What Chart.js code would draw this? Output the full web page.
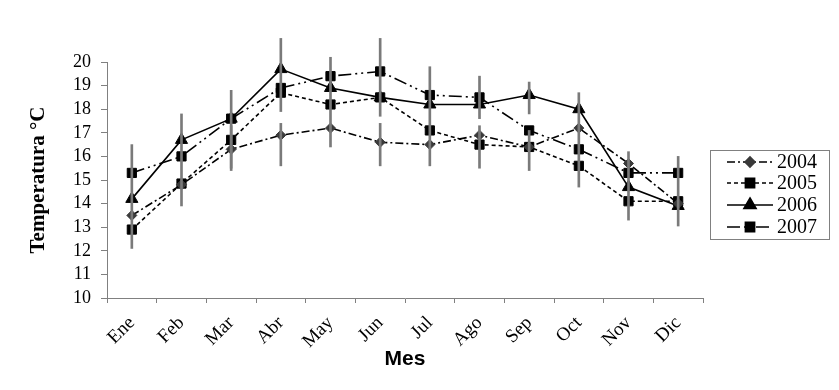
<!DOCTYPE html>
<html>
<head>
<meta charset="utf-8">
<script src="https://cdn.jsdelivr.net/npm/chart.js@4/dist/chart.umd.min.js"></script>
<style>
  body { margin: 0; background: #fff; }
  #wrap { width: 839px; height: 390px; }
</style>
</head>
<body>
<div id="wrap"><canvas id="c" width="839" height="390"></canvas></div>
<script>
// Data
const months = ['Ene', 'Feb', 'Mar', 'Abr', 'May', 'Jun', 'Jul', 'Ago', 'Sep', 'Oct', 'Nov', 'Dic'];
const t2004 = [13.5, 14.8, 16.3, 16.9, 17.2, 16.6, 16.5, 16.9, 16.4, 17.2, 15.7, 14.0];
const t2005 = [12.9, 14.85, 16.7, 18.7, 18.2, 18.5, 17.1, 16.5, 16.4, 15.6, 14.1, 14.1];
const t2006 = [14.2, 16.7, 17.6, 19.7, 18.9, 18.5, 18.2, 18.2, 18.6, 18.0, 14.7, 13.9];
const t2007 = [15.3, 16.0, 17.6, 18.9, 19.4, 19.6, 18.6, 18.5, 17.1, 16.3, 15.3, 15.3];
// error bar ranges (low, high)
const errA = [[12.1, 16.5], [13.9, 17.8], [15.4, 18.8], [17.9, 21.0], [16.4, 20.2], [17.7, 21.0],
              [15.6, 19.8], [17.6, 19.4], [17.8, 19.15], [14.7, 18.7], [13.3, 16.2], [13.05, 16.0]];
const errB = [null, null, [15.5, 17.3], [15.6, 17.4], null, [15.6, 17.4],
              null, [15.5, 17.3], [15.4, 17.1], null, null, null];
const yTicks = [10, 11, 12, 13, 14, 15, 16, 17, 18, 19, 20];

const serif = "'Liberation Serif', 'Times New Roman', serif";

function lineSet(label, data, dash, style, radius, fill) {
    return {
        type: 'line',
        label: label,
        data: data,
        borderColor: '#000',
        borderWidth: 1.6,
        borderDash: dash,
        pointStyle: style,
        pointRadius: radius,
        pointBackgroundColor: fill,
        pointBorderColor: fill,
        pointBorderWidth: 1,
        tension: 0,
        order: 1
    };
}

function errSet(data) {
    return {
        type: 'bar',
        label: 'err',
        data: data,
        backgroundColor: '#7a7a7a',
        barThickness: 2,
        grouped: false,
        clip: false,
        order: -1
    };
}

const series = [
    lineSet('2004', t2004, [8, 3, 2, 3], 'rectRot', 5, '#3a3a3a'),
    lineSet('2005', t2005, [4, 3], 'rect', 6.5, '#000'),
    lineSet('2006', t2006, [], 'triangle', 7, '#000'),
    lineSet('2007', t2007, [13, 4, 2, 4, 2, 4], 'rect', 6.5, '#000')
];

// Boxed legend with line + marker samples
const boxLegend = {
    id: 'boxLegend',
    afterDraw(chart) {
        const ctx = chart.ctx;
        const x0 = 710, y0 = 150, w = 119, h = 89;
        ctx.save();
        ctx.strokeStyle = '#808080';
        ctx.lineWidth = 1;
        ctx.strokeRect(x0 + 0.5, y0 + 0.5, w, h);
        const rows = [162, 183, 205, 227];
        series.forEach((ds, i) => {
            const y = rows[i];
            ctx.beginPath();
            ctx.setLineDash(ds.borderDash);
            ctx.strokeStyle = '#000';
            ctx.lineWidth = 1.6;
            ctx.moveTo(727, y);
            ctx.lineTo(773, y);
            ctx.stroke();
            ctx.setLineDash([]);
            ctx.fillStyle = ds.pointBackgroundColor;
            ctx.strokeStyle = ds.pointBorderColor;
            Chart.helpers.drawPoint(ctx, {
                pointStyle: ds.pointStyle,
                radius: ds.pointRadius,
                rotation: 0,
                borderWidth: 1
            }, 750, y);
            ctx.fillStyle = '#000';
            ctx.font = '20px ' + serif;
            ctx.textBaseline = 'middle';
            ctx.textAlign = 'left';
            ctx.fillText(ds.label, 777, y + 1);
        });
        ctx.restore();
    }
};

new Chart(document.getElementById('c'), {
    data: {
        labels: months,
        datasets: [...series, errSet(errA), errSet(errB)]
    },
    options: {
        responsive: false,
        animation: false,
        layout: { padding: { left: 0, right: 136, top: 62, bottom: 0 } },
        plugins: {
            legend: { display: false },
            tooltip: { enabled: false }
        },
        scales: {
            x: {
                type: 'category',
                offset: true,
                afterFit(scale) { scale.height = 92; },
                border: { color: '#808080', width: 1 },
                grid: { display: true, drawOnChartArea: false, drawTicks: true, tickLength: 5, color: '#808080', offset: true },
                ticks: {
                    color: '#000',
                    font: { family: serif, size: 19 },
                    autoSkip: false,
                    maxRotation: 45,
                    minRotation: 45,
                    padding: 9
                },
                title: {
                    display: true,
                    text: 'Mes',
                    color: '#000',
                    font: { family: "'Liberation Sans', Arial, sans-serif", size: 21, weight: 'bold' },
                    padding: { top: 0, bottom: 18 }
                }
            },
            y: {
                min: 10,
                max: 20,
                afterFit(scale) { scale.width = 107; },
                afterBuildTicks(scale) { scale.ticks = yTicks.map(v => ({ value: v })); },
                border: { color: '#808080', width: 1 },
                grid: { display: true, drawOnChartArea: false, drawTicks: true, tickLength: 6, color: '#808080' },
                ticks: {
                    color: '#000',
                    font: { family: serif, size: 18 },
                    autoSkip: false,
                    stepSize: 1,
                    padding: 10
                },
                title: {
                    display: true,
                    text: 'Temperatura °C',
                    color: '#000',
                    font: { family: serif, size: 21, weight: 'bold' },
                    padding: { top: 26, bottom: 0 }
                }
            }
        }
    },
    plugins: [boxLegend]
});
</script>
</body>
</html>
